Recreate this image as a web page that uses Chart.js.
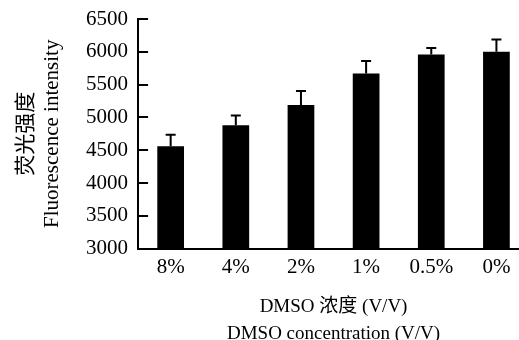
<!DOCTYPE html>
<html>
<head>
<meta charset="utf-8">
<script src="https://cdn.jsdelivr.net/npm/chart.js@4/dist/chart.umd.min.js"></script>
<style>
  html, body { margin: 0; padding: 0; background: #fff; overflow: hidden; }
  #chart { display: block; }
</style>
</head>
<body>
<canvas id="chart" width="529" height="347"></canvas>
<script>
// --- Data ---
const categories = ['8%', '4%', '2%', '1%', '0.5%', '0%'];
const intensity = [4560, 4880, 5190, 5670, 5960, 6000];
const errors = [177, 150, 212, 188, 97, 186];

const FONT = "'Liberation Serif', 'Noto Sans CJK SC', serif";

// draws the error bars on top of each bar
const errorBarPlugin = {
    id: 'errorBars',
    afterDatasetsDraw(chart) {
        const ctx = chart.ctx;
        const yScale = chart.scales.y;
        const meta = chart.getDatasetMeta(0);
        ctx.save();
        ctx.strokeStyle = '#000';
        ctx.lineWidth = 2;
        meta.data.forEach((bar, i) => {
            const top = yScale.getPixelForValue(intensity[i] + errors[i]);
            ctx.beginPath();
            ctx.moveTo(bar.x, bar.y);
            ctx.lineTo(bar.x, top);
            ctx.moveTo(bar.x - 5, top);
            ctx.lineTo(bar.x + 5, top);
            ctx.stroke();
        });
        ctx.restore();
    }
};

new Chart(document.getElementById('chart'), {
    type: 'bar',
    data: {
        labels: categories,
        datasets: [{
            data: intensity,
            backgroundColor: '#000',
            borderWidth: 0,
            barPercentage: 0.41,
            categoryPercentage: 1
        }]
    },
    options: {
        responsive: false,
        animation: false,
        layout: { padding: { left: 13, top: 19, right: 0, bottom: 0 } },
        plugins: { legend: { display: false }, tooltip: { enabled: false } },
        scales: {
            x: {
                grid: { display: false, drawTicks: false },
                border: { color: '#000', width: 2 },
                ticks: { color: '#000', font: { family: FONT, size: 21 }, padding: 6 },
                title: {
                    display: true,
                    text: ['DMSO 浓度 (V/V)', 'DMSO concentration (V/V)'],
                    color: '#000',
                    font: { family: FONT, size: 19, lineHeight: 1.4 },
                    padding: { top: 8, bottom: 0 }
                }
            },
            y: {
                min: 3000,
                max: 6500,
                grid: { drawOnChartArea: false, tickLength: -10, color: '#000', lineWidth: 2 },
                border: { color: '#000', width: 2 },
                ticks: {
                    stepSize: 500, color: '#000', font: { family: FONT, size: 21 }, padding: 20,
                    callback: v => String(v)
                },
                // tick padding would otherwise push the plot top down
                afterFit: scale => { scale.paddingTop = 0; scale.paddingBottom = 0; },
                title: {
                    display: true,
                    text: ['荧光强度', 'Fluorescence intensity'],
                    color: '#000',
                    font: { family: FONT, size: 21, lineHeight: 1.24 },
                    padding: { top: 0, bottom: 1 }
                }
            }
        }
    },
    plugins: [errorBarPlugin]
});
</script>
</body>
</html>
